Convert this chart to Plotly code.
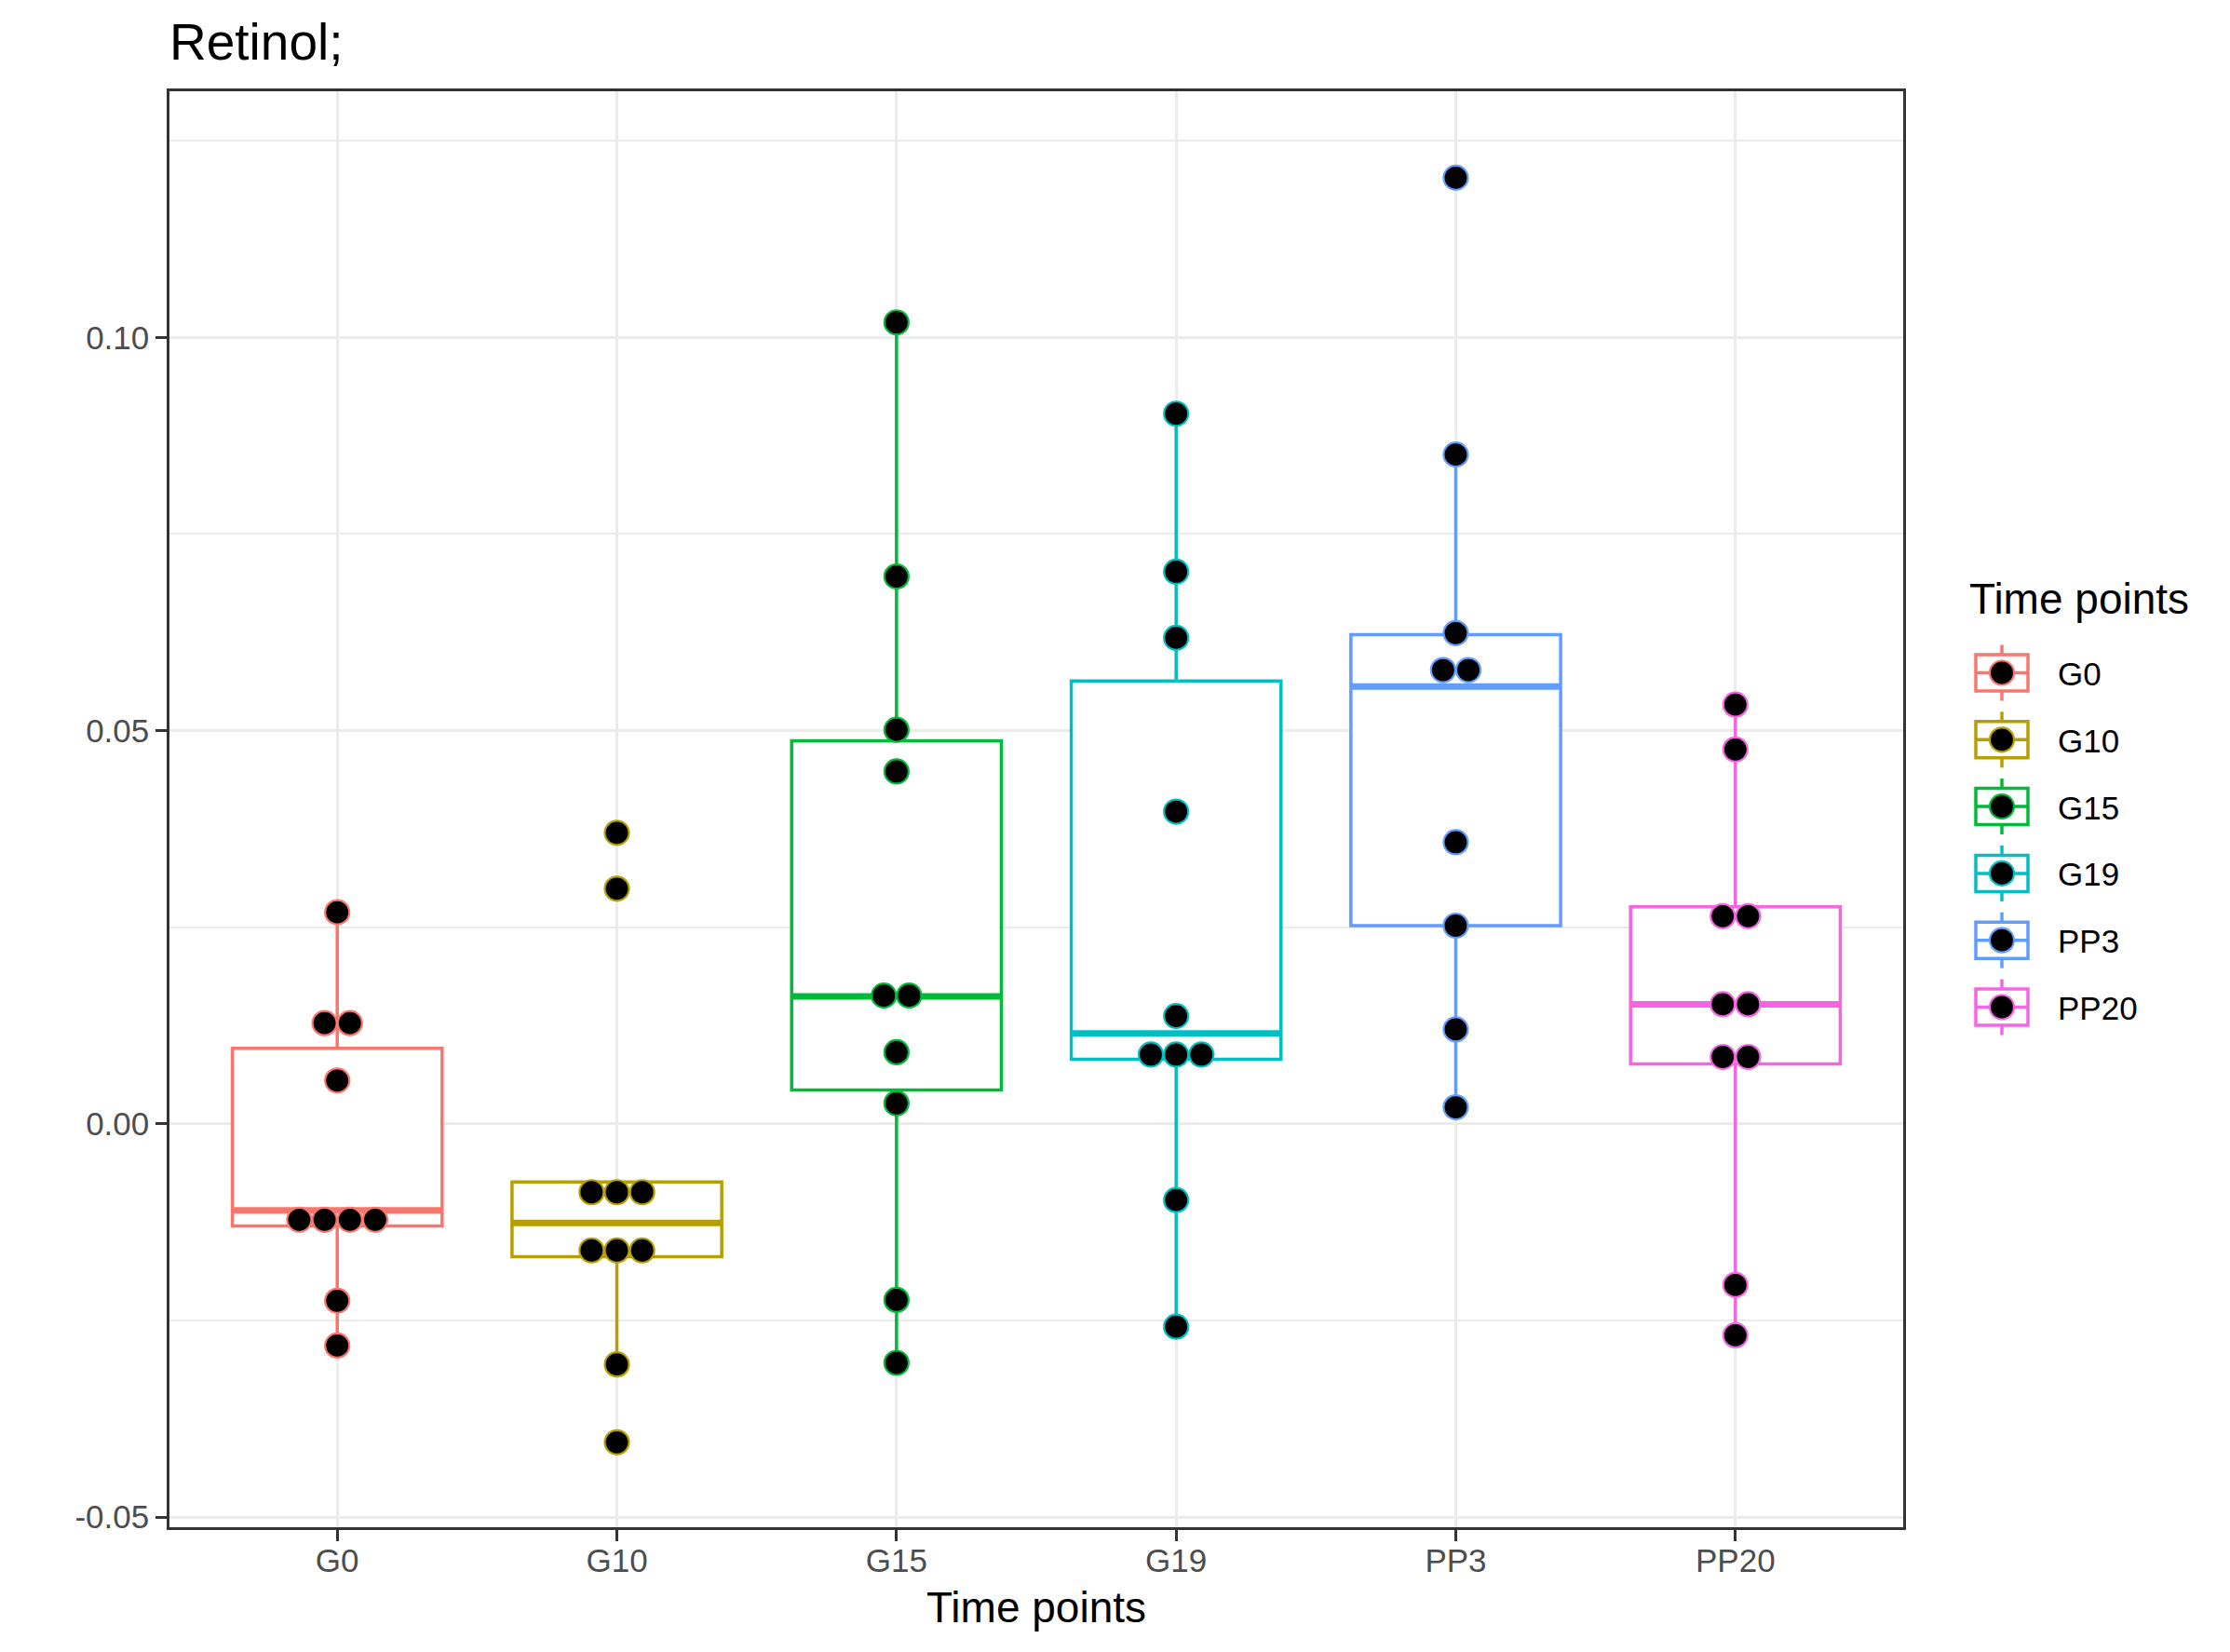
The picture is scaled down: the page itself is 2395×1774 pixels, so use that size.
import plotly.graph_objects as go

# ---------------- data ----------------
categories = ["G0", "G10", "G15", "G19", "PP3", "PP20"]
colors = ["#F8766D", "#B79F00", "#00BA38", "#00BFC4", "#619CFF", "#F564E3"]

g0_vals = [0.0269, 0.0128, 0.0128, 0.0055, -0.0122, -0.0122, -0.0122, -0.0122, -0.0225, -0.0282]
g10_vals = [0.0370, 0.0299, -0.0087, -0.0087, -0.0087, -0.0161, -0.0161, -0.0161, -0.0306, -0.0405]
g15_vals = [0.1019, 0.0696, 0.0501, 0.0448, 0.0163, 0.0163, 0.0091, 0.0026, -0.0224, -0.0304]
g19_vals = [0.0903, 0.0702, 0.0618, 0.0397, 0.0137, 0.0088, 0.0088, 0.0088, -0.0097, -0.0258]
pp3_vals = [0.1203, 0.0851, 0.0624, 0.0577, 0.0577, 0.0358, 0.0252, 0.0120, 0.0021]
pp20_vals = [0.0533, 0.0476, 0.0264, 0.0264, 0.0152, 0.0152, 0.0085, 0.0085, -0.0205, -0.0269]

box_q1 = [-0.0130, -0.0169, 0.0043, 0.0082, 0.0252, 0.0076]
box_median = [-0.0110, -0.0126, 0.0162, 0.0115, 0.0556, 0.0152]
box_q3 = [0.0096, -0.0074, 0.0487, 0.0563, 0.0622, 0.0276]
whisker_low = [-0.0282, -0.0306, -0.0304, -0.0258, 0.0021, -0.0269]
whisker_high = [0.0269, -0.0074, 0.1019, 0.0903, 0.0851, 0.0533]

y_tick_vals = [-0.05, 0.00, 0.05, 0.10]
y_tick_text = ["-0.05", "0.00", "0.05", "0.10"]

title_text = "Retinol;"
x_title = "Time points"
legend_title = "Time points"

group_values = [g0_vals, g10_vals, g15_vals, g19_vals, pp3_vals, pp20_vals]

# ---------------- layout constants ----------------
W, H = 2395, 1774
PL, PR, PT, PB = 182, 2044, 98, 1640
FONT = "Liberation Sans, Arial, Helvetica, sans-serif"
BOX_W = 0.75
DOT_STEP = 0.0905
LW = 3.5


def px_x(px):
    return (px - PL) / (PR - PL)


def px_y(py):
    return (PB - py) / (PB - PT)


fig = go.Figure()

# boxes
for i, cat in enumerate(categories):
    fig.add_trace(go.Box(
        x=[i], q1=[box_q1[i]], median=[box_median[i]], q3=[box_q3[i]],
        lowerfence=[whisker_low[i]], upperfence=[whisker_high[i]],
        width=BOX_W, whiskerwidth=0, boxpoints=False,
        fillcolor="white", line=dict(color=colors[i], width=LW),
        name=cat, showlegend=False, hoverinfo="skip",
    ))
    # thicker median (ggplot fatten)
    fig.add_trace(go.Scatter(
        x=[i - BOX_W / 2, i + BOX_W / 2], y=[box_median[i], box_median[i]],
        mode="lines", line=dict(color=colors[i], width=7),
        showlegend=False, hoverinfo="skip",
    ))

# dots (stacked centre where values repeat)
for i, vals in enumerate(group_values):
    xs, ys = [], []
    counts = {}
    for v in vals:
        counts[v] = counts.get(v, 0) + 1
    seen = {}
    for v in vals:
        n = counts[v]
        k = seen.get(v, 0)
        seen[v] = k + 1
        xs.append(i + (k - (n - 1) / 2) * DOT_STEP)
        ys.append(v)
    fig.add_trace(go.Scatter(
        x=xs, y=ys, mode="markers",
        marker=dict(size=26, color="black", line=dict(color=colors[i], width=2.2)),
        showlegend=False, hoverinfo="skip",
    ))

# ---------------- manual legend (ggplot-like keys) ----------------
shapes = []
annotations = []
key_cx = 2150
key_cy0 = 722.5
key_step = 71.8
for i, cat in enumerate(categories):
    cy = key_cy0 + key_step * i
    c = colors[i]
    shapes.append(dict(type="line", xref="paper", yref="paper",
                       x0=px_x(key_cx), x1=px_x(key_cx), y0=px_y(cy - 30), y1=px_y(cy + 30),
                       line=dict(color=c, width=LW)))
    shapes.append(dict(type="rect", xref="paper", yref="paper",
                       x0=px_x(key_cx - 28), x1=px_x(key_cx + 28), y0=px_y(cy - 19.5), y1=px_y(cy + 19.5),
                       fillcolor="white", line=dict(color=c, width=LW)))
    shapes.append(dict(type="line", xref="paper", yref="paper",
                       x0=px_x(key_cx - 28), x1=px_x(key_cx + 28), y0=px_y(cy), y1=px_y(cy),
                       line=dict(color=c, width=LW)))
    shapes.append(dict(type="circle", xref="paper", yref="paper",
                       x0=px_x(key_cx - 13), x1=px_x(key_cx + 13), y0=px_y(cy - 13), y1=px_y(cy + 13),
                       fillcolor="black", line=dict(color=c, width=2.2)))
    annotations.append(dict(text=cat, xref="paper", yref="paper", x=px_x(2208), y=px_y(cy + 1),
                            xanchor="left", yanchor="middle", showarrow=False,
                            font=dict(family=FONT, size=35, color="black")))

annotations.append(dict(text=legend_title, xref="paper", yref="paper", x=px_x(2113), y=px_y(643),
                        xanchor="left", yanchor="middle", showarrow=False,
                        font=dict(family=FONT, size=46, color="black")))

fig.update_layout(
    width=W, height=H,
    margin=dict(l=PL, r=W - PR, t=PT, b=H - PB, pad=0),
    paper_bgcolor="white", plot_bgcolor="white",
    font=dict(family=FONT),
    title=dict(text=title_text, x=0, xref="paper", xanchor="left",
               y=1 - 64 / H, yref="container", yanchor="bottom",
               font=dict(family=FONT, size=55, color="black")),
    showlegend=False,
    shapes=shapes,
    annotations=annotations,
    xaxis=dict(
        range=[-0.6, len(categories) - 1 + 0.6],
        tickmode="array", tickvals=list(range(len(categories))), ticktext=categories,
        showgrid=True, gridcolor="#EBEBEB", gridwidth=3, zeroline=False,
        showline=True, mirror=True, linecolor="#333333", linewidth=2.5,
        ticks="outside", ticklen=12, tickwidth=3, tickcolor="#333333",
        ticklabelstandoff=-9,
        tickfont=dict(family=FONT, size=35, color="#4D4D4D"),
        title=dict(text=x_title, font=dict(family=FONT, size=46, color="black"), standoff=17),
    ),
    yaxis=dict(
        range=[-0.0513, 0.1313],
        tickmode="array", tickvals=y_tick_vals, ticktext=y_tick_text,
        showgrid=True, gridcolor="#EBEBEB", gridwidth=3, zeroline=False,
        showline=True, mirror=True, linecolor="#333333", linewidth=2.5,
        ticks="outside", ticklen=12, tickwidth=3, tickcolor="#333333",
        tickfont=dict(family=FONT, size=35, color="#4D4D4D"),
        minor=dict(tickmode="array", tickvals=[-0.025, 0.025, 0.075, 0.125],
                   showgrid=True, gridcolor="#EBEBEB", gridwidth=1.6, ticks=""),
    ),
)

fig.write_html("out.html", config={"displayModeBar": False},
               post_script="document.body.style.margin='0';")
